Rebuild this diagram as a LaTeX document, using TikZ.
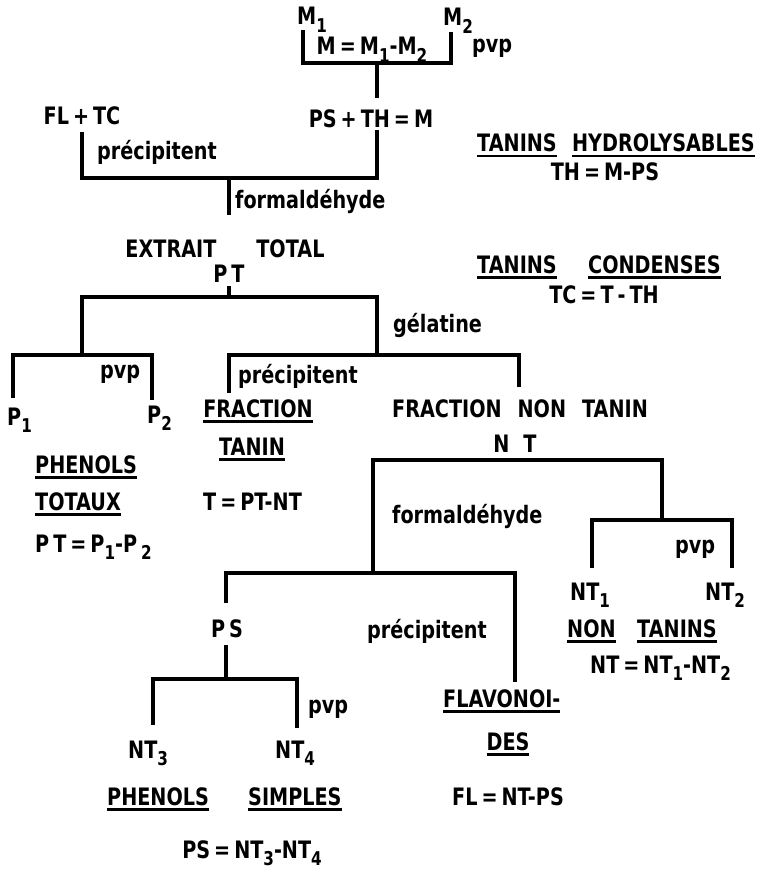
\documentclass[tikz,border=0pt]{standalone}
\usepackage{fontspec}
\setmainfont{DejaVu Sans}[FakeStretch=0.8]
\newcommand\dn[1]{\raisebox{-0.3em}{\fontsize{19pt}{19pt}\selectfont #1}}
\newcommand\ulx[1]{\setbox0=\hbox{#1}\rlap{\rule[-5.5pt]{\wd0}{2.6pt}}\box0}
\tikzset{
  lbl/.style={inner sep=0pt, font=\fontsize{24pt}{26pt}\selectfont\bfseries, anchor=base},
  lblw/.style={lbl, anchor=base west},
  lble/.style={lbl, anchor=base east},
  br/.style={line width=3.5pt, line join=miter}
}
\begin{document}
\begin{tikzpicture}[x=1pt,y=-1pt]
\useasboundingbox[fill=white] (0,0) rectangle (757,869);

% ---------- labels ----------
\node[lblw] (m1) at (297,25) {M\dn{1}};
\node[lblw] (m2) at (443,26) {M\dn{2}};
\node[lbl] (meq) at (372,55) {M\,=\,M\dn{1}-M\dn{2}};
\node[lblw] (pvpa) at (472,53) {pvp};
\node[lbl] (psth) at (371,128) {PS\,+\,TH\,=\,M};
\node[lbl] (fltc) at (82,125) {FL\,+\,TC};
\node[lblw] (prca) at (97,160) {précipitent};
\node[lblw] (forma) at (235,208) {formaldéhyde};
\node[lbl] (ext) at (225,257) {EXTRAIT\hspace{40pt}TOTAL};
\node[lbl] (pt) at (229,282) {P\,T};
\node[lblw] (gel) at (393,332) {gélatine};
\node[lblw] (pvpb) at (100,378) {pvp};
\node[lblw] (p1) at (7,425) {P\dn{1}};
\node[lblw] (p2) at (147,423) {P\dn{2}};
\node[lblw] (prcb) at (238,383) {précipitent};
\node[lbl] (frac) at (258,417) {\ulx{FRACTION}};
\node[lbl] (tanin) at (252,455) {\ulx{TANIN}};
\node[lbl] (fnt) at (520,417) {FRACTION\hspace{16pt}NON\hspace{16pt}TANIN};
\node[lbl] (nt) at (515,452) {N\hspace{14pt}T};
\node[lblw] (phen) at (35,473) {\ulx{PHENOLS}};
\node[lblw] (tot) at (35,510) {\ulx{TOTAUX}};
\node[lblw] (pteq) at (35,552) {P\,T\,=\,P\dn{1}-P\,\dn{2}};
\node[lblw] (teq) at (203,510) {T\,=\,PT-NT};
\node[lblw] (formb) at (392,523) {formaldéhyde};
\node[lblw] (pvpc) at (675,553) {pvp};
\node[lblw] (nt1) at (570,600) {NT\dn{1}};
\node[lblw] (nt2) at (705,600) {NT\dn{2}};
\node[lblw] (non) at (567,637) {\ulx{NON}};
\node[lblw] (tanins) at (637,637) {\ulx{TANINS}};
\node[lblw] (nteq) at (590,673) {NT\,=\,NT\dn{1}-NT\dn{2}};
\node[lbl] (ps) at (227,637) {P\,S};
\node[lblw] (prcc) at (367,638) {précipitent};
\node[lblw] (pvpd) at (308,713) {pvp};
\node[lblw] (nt3) at (128,758) {NT\dn{3}};
\node[lblw] (nt4) at (275,758) {NT\dn{4}};
\node[lblw] (phenb) at (107,805) {\ulx{PHENOLS}};
\node[lblw] (simp) at (248,805) {\ulx{SIMPLES}};
\node[lbl] (pseq) at (252,858) {PS\,=\,NT\dn{3}-NT\dn{4}};
\node[lblw] (flav) at (443,707) {\ulx{FLAVONOI-}};
\node[lbl] (des) at (508,750) {\ulx{DES}};
\node[lblw] (fleq) at (452,805) {FL\,=\,NT-PS};
\node[lblw] (tanh) at (477,152) {\ulx{TANINS}};
\node[lble] (hydr) at (755,152) {\ulx{HYDROLYSABLES}};
\node[lbl] (theq) at (605,180) {TH\,=\,M-PS};
\node[lblw] (tanc) at (477,273) {\ulx{TANINS}};
\node[lblw] (cond) at (588,273) {\ulx{CONDENSES}};
\node[lbl] (tceq) at (604,303) {TC\,=\,T\,-\,TH};

% ---------- connector points ----------
\coordinate (m1t) at (303,30);  \coordinate (m1b) at (303,63);
\coordinate (m2t) at (451,32);  \coordinate (m2b) at (451,63);
\coordinate (mj) at (377,63);   \coordinate (md) at (377,98);

\coordinate (at) at (82,132);   \coordinate (ab) at (82,178);
\coordinate (bt) at (377,130);  \coordinate (bb) at (377,178);
\coordinate (aj) at (229,178);  \coordinate (ad) at (229,215);

\coordinate (ptj) at (229,286); \coordinate (ptb) at (229,297);
\coordinate (pl) at (82,297);   \coordinate (plb) at (82,355);
\coordinate (pr) at (377,297);  \coordinate (prb) at (377,355);

\coordinate (q1b) at (13,398);  \coordinate (q1t) at (13,355);
\coordinate (q2t) at (152,355); \coordinate (q2b) at (152,400);

\coordinate (r1b) at (229,393); \coordinate (r1t) at (229,355);
\coordinate (r2t) at (519,355); \coordinate (r2b) at (519,387);

\coordinate (n1b) at (373,573); \coordinate (n1t) at (373,460);
\coordinate (n2t) at (662,460); \coordinate (n2b) at (662,520);

\coordinate (s1b) at (592,568); \coordinate (s1t) at (592,520);
\coordinate (s2t) at (732,520); \coordinate (s2b) at (732,568);

\coordinate (u1b) at (226,603); \coordinate (u1t) at (226,573);
\coordinate (u2t) at (515,573); \coordinate (u2b) at (515,682);

\coordinate (vt) at (226,645);  \coordinate (vb) at (226,679);
\coordinate (w1b) at (153,725); \coordinate (w1t) at (153,679);
\coordinate (w2t) at (297,679); \coordinate (w2b) at (297,728);

% ---------- connectors ----------
\draw[br] (m1t) -- (m1b) -- (m2b) -- (m2t);
\draw[br] (mj) -- (md);
\draw[br] (at) -- (ab) -- (bb) -- (bt);
\draw[br] (aj) -- (ad);
\draw[br] (ptj) -- (ptb);
\draw[br] (plb) -- (pl) -- (pr) -- (prb);
\draw[br] (q1b) -- (q1t) -- (q2t) -- (q2b);
\draw[br] (r1b) -- (r1t) -- (r2t) -- (r2b);
\draw[br] (n1b) -- (n1t) -- (n2t) -- (n2b);
\draw[br] (s1b) -- (s1t) -- (s2t) -- (s2b);
\draw[br] (u1b) -- (u1t) -- (u2t) -- (u2b);
\draw[br] (vt) -- (vb);
\draw[br] (w1b) -- (w1t) -- (w2t) -- (w2b);
\end{tikzpicture}
\end{document}
